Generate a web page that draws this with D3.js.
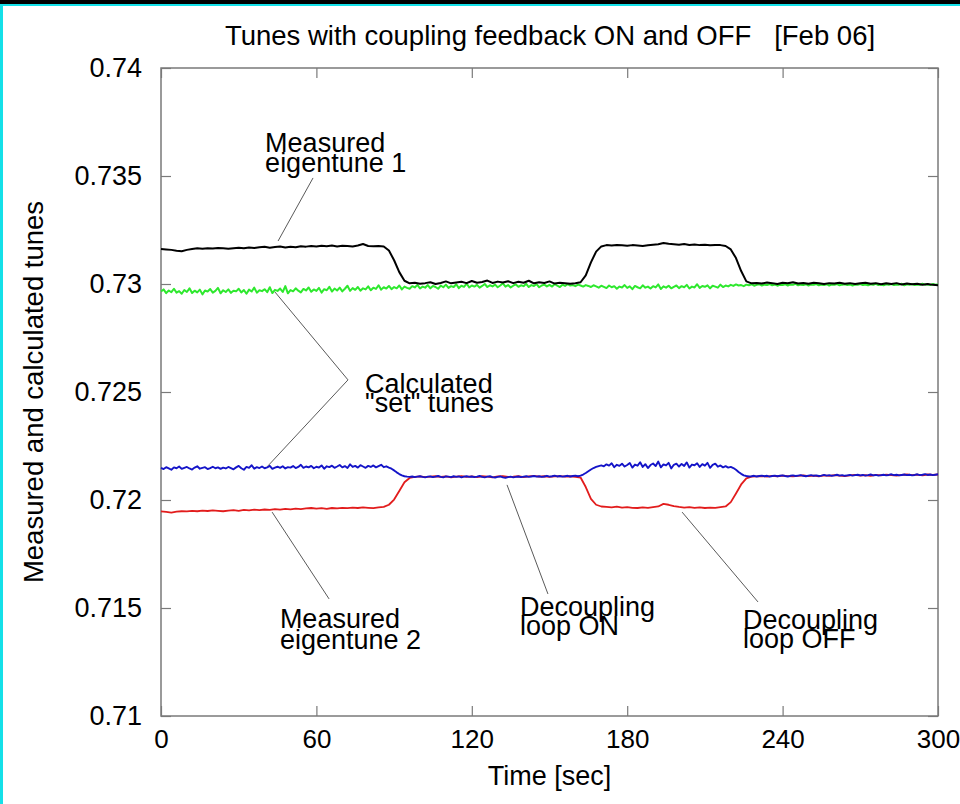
<!DOCTYPE html>
<html>
<head>
<meta charset="utf-8">
<script src="https://cdn.jsdelivr.net/npm/d3@7"></script>
<style>
  html, body { margin: 0; padding: 0; background: #000; }
  svg { display: block; }
  text { font-family: "Liberation Sans", Arial, Helvetica, sans-serif; fill: #000; }
</style>
</head>
<body>
<div id="chart"></div>
<script>
const timeTicks = [0, 60, 120, 180, 240, 300];
const tuneTicks = [0.71, 0.715, 0.72, 0.725, 0.73, 0.735, 0.74];

const eigentune1 = [
  0.73162, 0.73160, 0.73158, 0.73154, 0.73152, 0.73158, 0.73162, 0.73165, 0.73163, 0.73166,
  0.73164, 0.73167, 0.73165, 0.73163, 0.73166, 0.73168, 0.73165, 0.73169, 0.73167, 0.73170,
  0.73172, 0.73168, 0.73171, 0.73174, 0.73169, 0.73172, 0.73170, 0.73175, 0.73173, 0.73176,
  0.73174, 0.73177, 0.73175, 0.73178, 0.73174, 0.73177, 0.73176, 0.73174, 0.73178, 0.73185,
  0.73176, 0.73175, 0.73176, 0.73174, 0.73155, 0.73110, 0.73055, 0.73015, 0.73003, 0.73006,
  0.73001, 0.73004, 0.73008, 0.73000, 0.73005, 0.73012, 0.73003, 0.73007, 0.73010, 0.73004,
  0.73014, 0.73006, 0.73009, 0.73016, 0.73005, 0.73011, 0.73007, 0.73013, 0.73004, 0.73010,
  0.73006, 0.73015, 0.73003, 0.73008, 0.73005, 0.73012, 0.73002, 0.73006, 0.73004, 0.73001,
  0.73003,
  0.73008, 0.73040, 0.73100, 0.73150, 0.73174, 0.73180, 0.73178, 0.73181, 0.73179, 0.73177,
  0.73180, 0.73178, 0.73176, 0.73179, 0.73182, 0.73184, 0.73190, 0.73186, 0.73184, 0.73182,
  0.73185, 0.73181, 0.73183, 0.73180, 0.73182, 0.73179, 0.73181, 0.73180, 0.73176, 0.73160,
  0.73120, 0.73060, 0.73012, 0.73003,
  0.73005, 0.73002, 0.73007, 0.73004, 0.73000, 0.73006, 0.73003, 0.73008, 0.73002, 0.73005,
  0.73001, 0.73006, 0.73003, 0.73000, 0.73004, 0.73002, 0.73006, 0.73001, 0.73004, 0.73000,
  0.73003, 0.73006, 0.73001, 0.73004, 0.72999, 0.73003, 0.73000, 0.73004, 0.72998, 0.73002,
  0.72999, 0.73001, 0.72997, 0.73000, 0.72996, 0.72994
];

const eigentune2 = [
  0.71947, 0.71945, 0.71942, 0.71946, 0.71948, 0.71947, 0.71950, 0.71948, 0.71951, 0.71949,
  0.71952, 0.71950, 0.71948, 0.71951, 0.71953, 0.71950, 0.71954, 0.71952, 0.71955, 0.71953,
  0.71956, 0.71954, 0.71958, 0.71955, 0.71959, 0.71957, 0.71960, 0.71958, 0.71961, 0.71963,
  0.71960, 0.71962, 0.71959, 0.71963, 0.71961, 0.71964, 0.71962, 0.71965, 0.71963, 0.71966,
  0.71964, 0.71962, 0.71966, 0.71968, 0.71978, 0.72002, 0.72042, 0.72082, 0.72102, 0.72107,
  0.72109, 0.72106, 0.72108, 0.72110, 0.72107, 0.72109, 0.72105, 0.72108, 0.72111, 0.72107,
  0.72109, 0.72106, 0.72110, 0.72108, 0.72105, 0.72109, 0.72111, 0.72107, 0.72108, 0.72110,
  0.72106, 0.72109, 0.72112, 0.72108, 0.72110, 0.72107, 0.72109, 0.72111, 0.72108, 0.72110,
  0.72107,
  0.72104, 0.72060, 0.72005, 0.71978, 0.71970, 0.71968, 0.71966, 0.71969, 0.71965, 0.71967,
  0.71964, 0.71963, 0.71966, 0.71964, 0.71967, 0.71970, 0.71982, 0.71978, 0.71972, 0.71968,
  0.71965, 0.71967, 0.71964, 0.71966, 0.71963, 0.71965, 0.71964, 0.71967, 0.71970, 0.71990,
  0.72030, 0.72072, 0.72100, 0.72108,
  0.72109, 0.72111, 0.72108, 0.72112, 0.72110, 0.72113, 0.72111, 0.72109, 0.72112, 0.72114,
  0.72111, 0.72113, 0.72110, 0.72114, 0.72112, 0.72115, 0.72113, 0.72111, 0.72114, 0.72116,
  0.72113, 0.72115, 0.72112, 0.72116, 0.72114, 0.72117, 0.72115, 0.72113, 0.72116, 0.72118,
  0.72115, 0.72117, 0.72114, 0.72118, 0.72116, 0.72118
];

const setTune1 = [
  0.72965, 0.72975, 0.72958, 0.72970, 0.72962, 0.72978, 0.72960, 0.72967, 0.72955, 0.72972,
  0.72963, 0.72980, 0.72958, 0.72969, 0.72961, 0.72974, 0.72952, 0.72970, 0.72965, 0.72977,
  0.72960, 0.72968, 0.72982, 0.72957, 0.72971, 0.72963, 0.72975, 0.72959, 0.72969, 0.72966,
  0.72978, 0.72961, 0.72972, 0.72955, 0.72974, 0.72965, 0.72983, 0.72960, 0.72971, 0.72967,
  0.72976, 0.72962, 0.72985, 0.72958, 0.72973, 0.72968, 0.72979, 0.72963, 0.72990, 0.72957,
  0.72972, 0.72966, 0.72980, 0.72969, 0.72961, 0.72977, 0.72970, 0.72984, 0.72964, 0.72975,
  0.72968, 0.72982, 0.72960, 0.72976, 0.72971, 0.72987, 0.72965, 0.72979, 0.72970, 0.72983,
  0.72966, 0.72978, 0.72992, 0.72968, 0.72981, 0.72973, 0.72986, 0.72969, 0.72980, 0.72975,
  0.72989, 0.72971, 0.72983, 0.72977, 0.72994, 0.72974, 0.72985, 0.72979, 0.72991, 0.72976,
  0.72986, 0.72980, 0.72993, 0.72975, 0.72988, 0.72982, 0.72978, 0.72990, 0.72984, 0.72996,
  0.72979, 0.72988, 0.72983, 0.72995, 0.72980, 0.72991, 0.72986, 0.72978, 0.72993, 0.72985,
  0.72997, 0.72982, 0.72990, 0.72986, 0.72999, 0.72981, 0.72992, 0.72987, 0.73002, 0.72984,
  0.72993, 0.72988, 0.72996, 0.72983, 0.72991, 0.73000, 0.72986, 0.72994, 0.72989, 0.72997,
  0.72985, 0.72993, 0.73003, 0.72988, 0.72995, 0.72984, 0.72992, 0.72998, 0.72987, 0.72994,
  0.72990, 0.73001, 0.72986, 0.72995, 0.72991, 0.72999, 0.72985, 0.72993, 0.72997, 0.72989,
  0.72996, 0.72988, 0.73000, 0.72992, 0.72986, 0.72997, 0.72991, 0.72999, 0.72993, 0.72995,
  0.72990, 0.72997, 0.72993, 0.72988, 0.72995, 0.72991, 0.72986, 0.72994, 0.72989, 0.72983,
  0.72992, 0.72987, 0.72981, 0.72993, 0.72985, 0.72990, 0.72978, 0.72988, 0.72984, 0.72995,
  0.72982, 0.72989, 0.72976, 0.72991, 0.72985, 0.72980, 0.72994, 0.72983, 0.72988, 0.72979,
  0.72990, 0.72984, 0.72998, 0.72977, 0.72989, 0.72983, 0.72992, 0.72980, 0.72987, 0.72993,
  0.72981, 0.72990, 0.72985, 0.72996, 0.72979, 0.72988, 0.72984, 0.72999, 0.72982, 0.72991,
  0.72987, 0.72994, 0.72980, 0.72992, 0.72988, 0.72983, 0.72997, 0.72986, 0.72993, 0.72989,
  0.72996, 0.72991, 0.72998, 0.72993, 0.72995, 0.72990, 0.72997, 0.72994, 0.72999, 0.72992,
  0.72996, 0.72999, 0.72993, 0.72997, 0.72995, 0.73000, 0.72994, 0.72998, 0.72992, 0.72997,
  0.72995, 0.72999, 0.72993, 0.72998, 0.72996, 0.73001, 0.72994, 0.72997, 0.72995, 0.72999,
  0.72993, 0.72998, 0.72996, 0.73000, 0.72994, 0.72997, 0.72995, 0.72999, 0.72993, 0.72998,
  0.72996, 0.73000, 0.72994, 0.72997, 0.72999, 0.72995, 0.72998, 0.72993, 0.72997, 0.72996,
  0.73000, 0.72995, 0.72998, 0.72994, 0.72999, 0.72996, 0.73001, 0.72995, 0.72998, 0.72994,
  0.72999, 0.72996, 0.73000, 0.72995, 0.72998, 0.72997, 0.73001, 0.72994, 0.72999, 0.72996,
  0.73000, 0.72995, 0.72998, 0.72996, 0.73001, 0.72997, 0.72999, 0.72995, 0.73000, 0.72997,
  0.72998
];

const setTune2 = [
  0.72149, 0.72143, 0.72152, 0.72146, 0.72140, 0.72151, 0.72147, 0.72155, 0.72144, 0.72149,
  0.72153, 0.72146, 0.72141, 0.72150, 0.72156, 0.72145, 0.72149, 0.72152, 0.72143, 0.72148,
  0.72154, 0.72147, 0.72151, 0.72144, 0.72150, 0.72146, 0.72153, 0.72148, 0.72142, 0.72151,
  0.72158, 0.72147, 0.72140, 0.72153, 0.72149, 0.72161, 0.72145, 0.72152, 0.72148, 0.72155,
  0.72147, 0.72151, 0.72158, 0.72144, 0.72150, 0.72154, 0.72149, 0.72156, 0.72146, 0.72152,
  0.72150, 0.72157, 0.72148, 0.72153, 0.72163, 0.72149, 0.72155, 0.72151, 0.72158, 0.72147,
  0.72154, 0.72150, 0.72160, 0.72145, 0.72156, 0.72152, 0.72159, 0.72149, 0.72155, 0.72162,
  0.72151, 0.72157, 0.72148, 0.72165, 0.72153, 0.72158, 0.72150, 0.72161, 0.72155, 0.72149,
  0.72158, 0.72153, 0.72160, 0.72151, 0.72157, 0.72163, 0.72152, 0.72156, 0.72150,
  0.72145, 0.72137, 0.72128, 0.72120, 0.72114, 0.72110, 0.72108,
  0.72107, 0.72109, 0.72106, 0.72108, 0.72110, 0.72107, 0.72105, 0.72108, 0.72109, 0.72106,
  0.72108, 0.72111, 0.72107, 0.72105, 0.72109, 0.72108, 0.72106, 0.72110, 0.72107, 0.72109,
  0.72105, 0.72108, 0.72110, 0.72107, 0.72109, 0.72106, 0.72108, 0.72111, 0.72107, 0.72105,
  0.72108, 0.72110, 0.72106, 0.72104, 0.72107, 0.72109, 0.72105, 0.72103, 0.72106, 0.72108,
  0.72105, 0.72107, 0.72109, 0.72106, 0.72108, 0.72110, 0.72107, 0.72109, 0.72111, 0.72108,
  0.72110, 0.72107, 0.72109, 0.72112, 0.72108, 0.72110, 0.72113, 0.72109, 0.72111, 0.72108,
  0.72110, 0.72112, 0.72109, 0.72111, 0.72113, 0.72110,
  0.72113, 0.72118, 0.72125, 0.72133, 0.72141, 0.72148, 0.72153, 0.72157, 0.72160,
  0.72156, 0.72165, 0.72159, 0.72170, 0.72152, 0.72163, 0.72158, 0.72168, 0.72155, 0.72162,
  0.72171, 0.72150, 0.72164, 0.72159, 0.72175, 0.72153, 0.72166, 0.72148, 0.72162, 0.72169,
  0.72157, 0.72178, 0.72151, 0.72165, 0.72160, 0.72172, 0.72146, 0.72163, 0.72168, 0.72155,
  0.72167, 0.72158, 0.72174, 0.72150, 0.72164, 0.72161, 0.72170, 0.72153, 0.72166, 0.72159,
  0.72172, 0.72149, 0.72163, 0.72168, 0.72154, 0.72160, 0.72151, 0.72157, 0.72150, 0.72153, 0.72148,
  0.72140, 0.72130, 0.72121, 0.72114, 0.72111, 0.72109,
  0.72110, 0.72112, 0.72109, 0.72111, 0.72113, 0.72110, 0.72112, 0.72108, 0.72111, 0.72113,
  0.72110, 0.72112, 0.72114, 0.72111, 0.72109, 0.72112, 0.72114, 0.72111, 0.72113, 0.72115,
  0.72112, 0.72110, 0.72113, 0.72115, 0.72112, 0.72114, 0.72111, 0.72113, 0.72116, 0.72113,
  0.72115, 0.72112, 0.72114, 0.72117, 0.72113, 0.72115, 0.72112, 0.72114, 0.72116, 0.72113,
  0.72115, 0.72117, 0.72114, 0.72116, 0.72113, 0.72115, 0.72118, 0.72114, 0.72116, 0.72113,
  0.72115, 0.72117, 0.72114, 0.72116, 0.72119, 0.72115, 0.72117, 0.72114, 0.72116, 0.72118,
  0.72115, 0.72117, 0.72114, 0.72116, 0.72119, 0.72115, 0.72117, 0.72120, 0.72116, 0.72118,
  0.72115, 0.72117, 0.72119
];

// annotation text (first-line anchor in data units) and leader lines
const labels = [
  { lines: ["Measured", "eigentune 1"], t: 40.2, v: 0.73611, gap: 20 },
  { lines: ["Calculated", "\"set\" tunes"], t: 78.8, v: 0.72496, gap: 19.5 },
  { lines: ["Measured", "eigentune 2"], t: 45.9, v: 0.71407, gap: 21 },
  { lines: ["Decoupling", "loop ON"], t: 138.6, v: 0.71463, gap: 19.5 },
  { lines: ["Decoupling", "loop OFF"], t: 224.7, v: 0.71403, gap: 19 }
];
const leaders = [
  [[58.7, 0.73491], [45.2, 0.73199]],
  [[44.0, 0.72963], [72.2, 0.72556], [41.3, 0.72158]],
  [[42.9, 0.71944], [64.9, 0.71542]],
  [[133.6, 0.72070], [149.4, 0.71565]],
  [[201.2, 0.71944], [230.5, 0.71528]]
];

const width = 960, height = 804;
const margin = { top: 68, right: 22, bottom: 88, left: 161 };
const font = "\"Liberation Sans\", Arial, Helvetica, sans-serif";

const svg = d3.select("#chart").append("svg")
  .attr("width", width)
  .attr("height", height);

// black surround with cyan edge, white page
svg.append("rect").attr("width", width).attr("height", height).attr("fill", "#000");
svg.append("rect").attr("x", 0).attr("y", 4).attr("width", width).attr("height", height - 4).attr("fill", "#14e0e8");
svg.append("rect").attr("x", 3).attr("y", 6).attr("width", width - 3).attr("height", height - 6).attr("fill", "#fff");

const x = d3.scaleLinear().domain([0, 300]).range([margin.left, width - margin.right]);
const y = d3.scaleLinear().domain([0.71, 0.74]).range([height - margin.bottom, margin.top]);

const frameColor = "#7a7a7a";
const tuneFmt = (d) => String(+d.toFixed(3));

function styleAxis(g, size) {
  g.select(".domain").remove();
  g.selectAll(".tick line").attr("stroke", frameColor).attr("stroke-width", 1.2);
  g.selectAll(".tick text").attr("font-family", font).attr("font-size", size).attr("fill", "#000");
}

svg.append("g")
  .attr("transform", `translate(0,${height - margin.bottom})`)
  .call(d3.axisBottom(x).tickValues(timeTicks).tickFormat(d3.format("d")).tickSizeInner(-10).tickSizeOuter(0).tickPadding(14))
  .call((g) => styleAxis(g, 26));

svg.append("g")
  .attr("transform", `translate(${margin.left},0)`)
  .call(d3.axisLeft(y).tickValues(tuneTicks).tickFormat(tuneFmt).tickSizeInner(-10).tickSizeOuter(0).tickPadding(19))
  .call((g) => styleAxis(g, 27));

svg.append("g")
  .attr("transform", `translate(0,${margin.top})`)
  .call(d3.axisTop(x).tickValues(timeTicks).tickFormat("").tickSizeInner(-10).tickSizeOuter(0))
  .call((g) => styleAxis(g, 26));

svg.append("g")
  .attr("transform", `translate(${width - margin.right},0)`)
  .call(d3.axisRight(y).tickValues(tuneTicks).tickFormat("").tickSizeInner(-10).tickSizeOuter(0))
  .call((g) => styleAxis(g, 26));

svg.append("rect")
  .attr("x", margin.left)
  .attr("y", margin.top)
  .attr("width", width - margin.right - margin.left)
  .attr("height", height - margin.bottom - margin.top)
  .attr("fill", "none")
  .attr("stroke", frameColor)
  .attr("stroke-width", 1.5);

// traces
const toPoints = (values) => values.map((v, i) => [i * 300 / (values.length - 1), v]);
const line = d3.line().x((d) => x(d[0])).y((d) => y(d[1]));

const traces = [
  { values: setTune1, color: "#2ee82e", w: 2 },
  { values: eigentune1, color: "#000000", w: 2 },
  { values: eigentune2, color: "#e21c1c", w: 1.8 },
  { values: setTune2, color: "#1414c8", w: 1.9 }
];

svg.append("g").selectAll("path")
  .data(traces)
  .join("path")
  .attr("d", (d) => line(toPoints(d.values)))
  .attr("fill", "none")
  .attr("stroke", (d) => d.color)
  .attr("stroke-width", (d) => d.w)
  .attr("stroke-linejoin", "round");

// leader lines
svg.append("g").selectAll("path")
  .data(leaders)
  .join("path")
  .attr("d", (d) => line(d))
  .attr("fill", "none")
  .attr("stroke", "#5a5a5a")
  .attr("stroke-width", 1);

// annotation labels
const lab = svg.append("g").selectAll("text")
  .data(labels)
  .join("text")
  .attr("font-family", font)
  .attr("font-size", 27)
  .attr("x", (d) => x(d.t))
  .attr("y", (d) => y(d.v));
lab.selectAll("tspan")
  .data((d) => d.lines.map((s, i) => ({ s, i, d })))
  .join("tspan")
  .attr("x", (e) => x(e.d.t))
  .attr("y", (e) => y(e.d.v) + e.i * e.d.gap)
  .text((e) => e.s);

// title and axis labels
svg.append("text")
  .attr("x", 550)
  .attr("y", 45)
  .attr("text-anchor", "middle")
  .attr("font-family", font)
  .attr("font-size", 27.5)
  .style("white-space", "pre")
  .attr("xml:space", "preserve")
  .text("Tunes with coupling feedback ON and OFF   [Feb 06]");

svg.append("text")
  .attr("x", (margin.left + width - margin.right) / 2)
  .attr("y", 785)
  .attr("text-anchor", "middle")
  .attr("font-family", font)
  .attr("font-size", 27)
  .text("Time [sec]");

svg.append("text")
  .attr("transform", `translate(43,${(margin.top + height - margin.bottom) / 2}) rotate(-90)`)
  .attr("text-anchor", "middle")
  .attr("font-family", font)
  .attr("font-size", 27.5)
  .text("Measured and calculated tunes");
</script>
</body>
</html>
